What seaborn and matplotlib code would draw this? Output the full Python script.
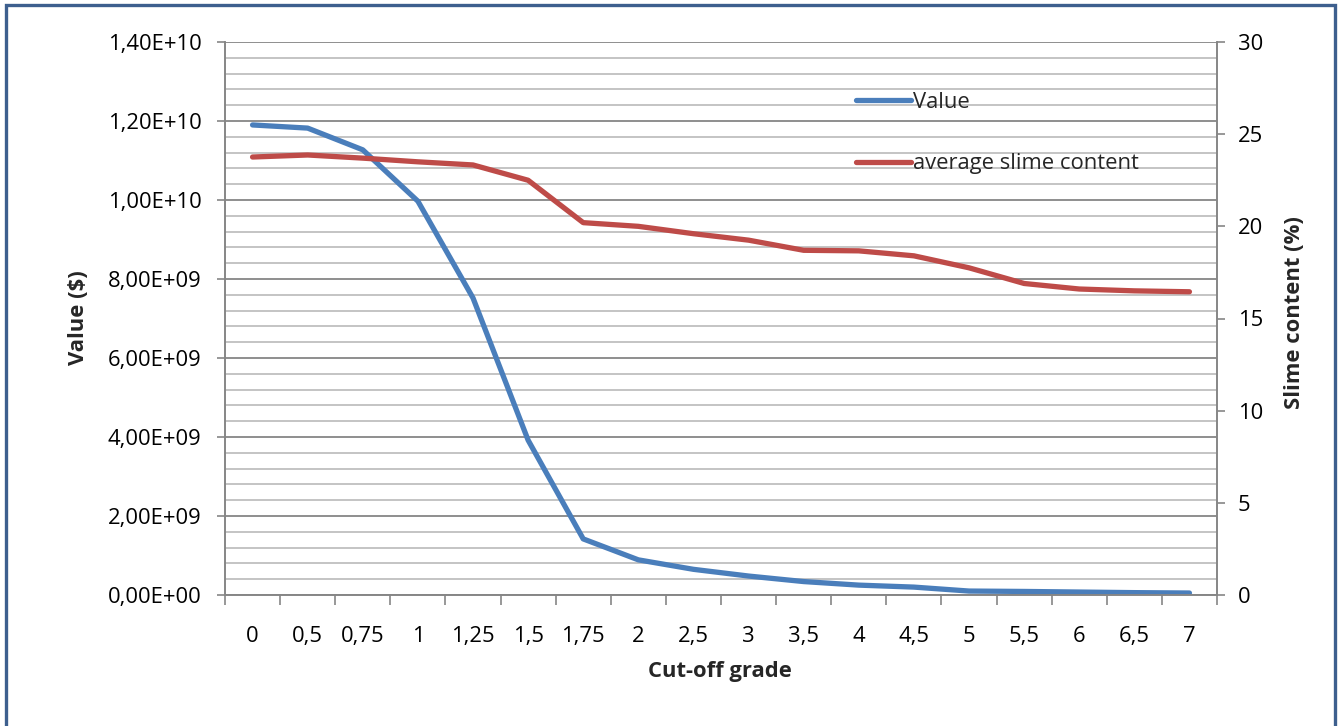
import numpy as np
import pandas as pd
import matplotlib
matplotlib.use("Agg")
import matplotlib.pyplot as plt
import seaborn as sns
from matplotlib.lines import Line2D
from matplotlib.patches import Rectangle
from matplotlib.ticker import FuncFormatter, MultipleLocator

grades = ["0", "0,5", "0,75", "1", "1,25", "1,5", "1,75", "2", "2,5", "3",
          "3,5", "4", "4,5", "5", "5,5", "6", "6,5", "7"]
value = [1.19e10, 1.182e10, 1.127e10, 0.997e10, 7.52e9, 3.92e9, 1.42e9, 8.9e8,
         6.5e8, 4.8e8, 3.4e8, 2.5e8, 2.0e8, 1.0e8, 9.0e7, 7.5e7, 6.0e7, 5.0e7]
slime = [23.76, 23.87, 23.7, 23.5, 23.33, 22.5, 20.2, 20.0, 19.6, 19.25,
         18.7, 18.67, 18.4, 17.75, 16.9, 16.6, 16.5, 16.45]

sns.set_theme(style="white")
plt.rcParams["font.family"] = ["Open Sans", "DejaVu Sans"]

BLUE = "#4a7ebb"
RED = "#be4b48"
FS = 15.8

df = pd.DataFrame({"pos": np.arange(len(grades)), "grade": grades,
                   "value": value, "slime": slime})

fig = plt.figure(figsize=(13.42, 7.26), dpi=100)
ax = fig.add_axes([225 / 1342, 1 - 595 / 726, (1217 - 225) / 1342, (595 - 42) / 726])
ax2 = ax.twinx()

sns.lineplot(data=df, x="pos", y="value", ax=ax, color=BLUE, linewidth=3.8,
             solid_capstyle="round", legend=False)
sns.lineplot(data=df, x="pos", y="slime", ax=ax2, color=RED, linewidth=3.8,
             solid_capstyle="round", legend=False)

ax.set_xlim(-0.5, len(grades) - 0.5)
ax.set_ylim(0, 1.4e10)
ax2.set_ylim(0, 30)

# gridlines
ax.yaxis.set_major_locator(MultipleLocator(2e9))
ax.yaxis.set_minor_locator(MultipleLocator(4e8))
ax.grid(which="minor", axis="y", color="#c4c4c4", linewidth=1.4)
ax.grid(which="major", axis="y", color="#8e8e8e", linewidth=1.4)
ax.grid(which="both", axis="x", visible=False)
ax.set_axisbelow(True)

ax.yaxis.set_major_formatter(FuncFormatter(
    lambda v, p: ("%.2E" % v).replace(".", ",")))
ax.tick_params(axis="y", which="major", length=6, width=1.2, color="#868686",
               pad=11, labelsize=FS, labelcolor="black", direction="out", left=True)
ax.tick_params(axis="y", which="minor", length=0)

ax.set_xticks(df["pos"])
ax.set_xticklabels(grades)
ax.set_xticks(np.arange(-0.5, len(grades), 1.0), minor=True)
ax.tick_params(axis="x", which="major", length=0, pad=22, labelsize=FS, labelcolor="black")
ax.tick_params(axis="x", which="minor", length=7, width=1.2, color="#868686",
               direction="out", bottom=True)

ax2.yaxis.set_major_locator(MultipleLocator(5))
ax2.tick_params(axis="y", length=6, width=1.2, color="#868686", pad=9,
                labelsize=FS, labelcolor="black", direction="out", right=True)
ax2.grid(False)

for a in (ax, ax2):
    a.spines["top"].set_visible(False)
    for s in ("left", "right", "bottom"):
        a.spines[s].set_color("#868686")
        a.spines[s].set_linewidth(1.2)

ax.set_xlabel("")
ax.set_ylabel("")
ax2.set_ylabel("")

fig.text(78 / 1342, 1 - 318 / 726, "Value ($)", rotation=90, ha="center", va="center",
         fontsize=FS, fontweight="bold")
fig.text(720 / 1342, 1 - 671 / 726, "Cut-off grade", ha="center", va="center",
         fontsize=FS, fontweight="bold")
fig.text(1295 / 1342, 1 - 313 / 726, "Slime content (%)", rotation=90, ha="center",
         va="center", fontsize=FS, fontweight="bold")

handles = [Line2D([], [], color=BLUE, linewidth=3.8, solid_capstyle="round"),
           Line2D([], [], color=RED, linewidth=3.8, solid_capstyle="round")]
leg = ax2.legend(handles, ["Value", "average slime content"], loc="upper left",
                 bbox_to_anchor=(856 / 1342, 1 - 92 / 726), bbox_transform=fig.transFigure,
                 frameon=False, fontsize=FS, handlelength=2.5, handletextpad=0.1,
                 labelspacing=1.84, borderpad=0, borderaxespad=0)

# chart border
fig.patches.append(Rectangle((5.5 / 1342, -0.05), (1334.5 - 5.5) / 1342, 1.05 - 5 / 726,
                             transform=fig.transFigure, fill=False,
                             edgecolor="#3d5f8e", linewidth=2.4, zorder=10))

fig.savefig("out.png", dpi=100)
